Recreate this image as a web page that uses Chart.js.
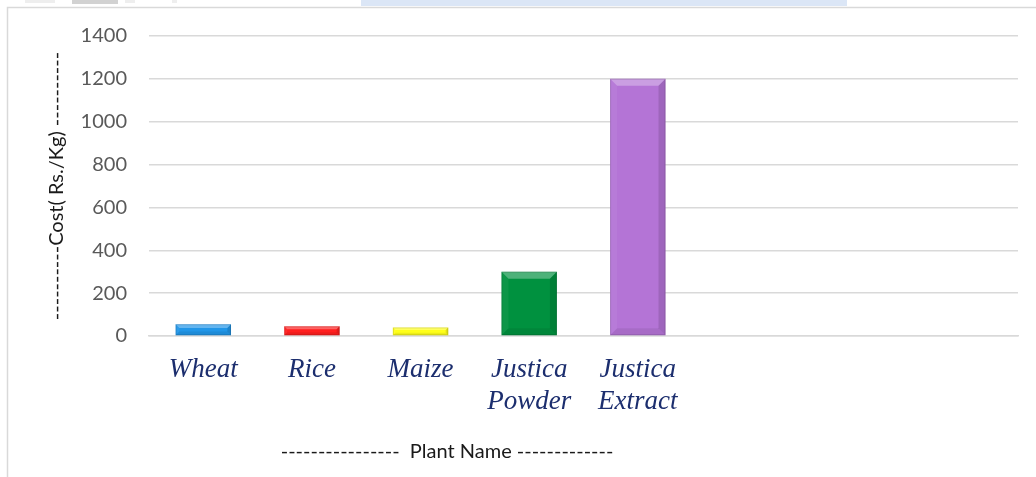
<!DOCTYPE html>
<html>
<head>
<meta charset="utf-8">
<script src="https://cdn.jsdelivr.net/npm/chart.js@4.4.1/dist/chart.umd.min.js"></script>
<style>
  html, body { margin: 0; padding: 0; background: #ffffff; }
  #wrap { width: 1036px; height: 477px; position: relative; }
</style>
</head>
<body>
<div id="wrap"><canvas id="c" width="1036" height="477"></canvas></div>
<script>
// ---- data ----
const categories = [['Wheat'], ['Rice'], ['Maize'], ['Justica', 'Powder'], ['Justica', 'Extract'], '', '', ''];
const costValues = [55, 45, 40, 300, 1200, null, null, null];
const barColors = ['#2196e8', '#ff1f1f', '#ffff1a', '#00913f', '#b474d6', '#cccccc', '#cccccc', '#cccccc'];
const yTicks = [0, 200, 400, 600, 800, 1000, 1200, 1400];
const yTitle = '----------Cost( Rs./Kg) ----------';
const xTitle = '----------------  Plant Name -------------';

// frame + decorations
const framePlugin = {
  id: 'frame',
  beforeDraw(chart) {
    const ctx = chart.ctx;
    ctx.save();
    ctx.fillStyle = '#ffffff';
    ctx.fillRect(0, 0, chart.width, chart.height);
    ctx.fillStyle = '#dbe6f6';
    ctx.fillRect(361, 0, 486, 6);
    ctx.fillStyle = '#d2d2d2';
    ctx.fillRect(72, 0, 46, 4);
    ctx.fillStyle = '#eeeeee';
    ctx.fillRect(25, 0, 30, 3);
    ctx.fillRect(125, 0, 10, 3);
    ctx.fillRect(172, 0, 5, 3);
    ctx.strokeStyle = '#d9d9d9';
    ctx.lineWidth = 1.5;
    ctx.beginPath();
    ctx.moveTo(7.5, chart.height);
    ctx.lineTo(7.5, 7.5);
    ctx.lineTo(chart.width, 7.5);
    ctx.stroke();
    ctx.restore();
  }
};

// bevel effect on bars
const bevelPlugin = {
  id: 'bevel',
  afterDatasetsDraw(chart) {
    const ctx = chart.ctx;
    const meta = chart.getDatasetMeta(0);
    ctx.save();
    meta.data.forEach((bar, i) => {
      if (costValues[i] == null) return;
      const p = bar.getProps(['x', 'y', 'base', 'width'], true);
      const l = p.x - p.width / 2, r = p.x + p.width / 2;
      const t = Math.min(p.y, p.base), b = Math.max(p.y, p.base);
      const h = b - t;
      const bv = Math.min(7, h / 3);
      const poly = (pts, col) => {
        ctx.fillStyle = col;
        ctx.beginPath();
        ctx.moveTo(pts[0][0], pts[0][1]);
        for (let k = 1; k < pts.length; k++) ctx.lineTo(pts[k][0], pts[k][1]);
        ctx.closePath();
        ctx.fill();
      };
      poly([[l, t], [r, t], [r - bv, t + bv], [l + bv, t + bv]], 'rgba(255,255,255,0.3)');
      poly([[l, t], [l + bv, t + bv], [l + bv, b - bv], [l, b]], 'rgba(255,255,255,0.05)');
      poly([[r, t], [r, b], [r - bv, b - bv], [r - bv, t + bv]], 'rgba(0,0,0,0.12)');
      poly([[l, b], [l + bv, b - bv], [r - bv, b - bv], [r, b]], 'rgba(0,0,0,0.07)');
      ctx.strokeStyle = 'rgba(0,0,0,0.12)';
      ctx.lineWidth = 1;
      ctx.strokeRect(l + 0.5, t + 0.5, p.width - 1, h - 1);
    });
    ctx.restore();
  }
};

// x-axis title (offset to the left like the reference)
const xTitlePlugin = {
  id: 'xTitle',
  afterDraw(chart) {
    const ctx = chart.ctx;
    const a = chart.chartArea;
    ctx.save();
    ctx.font = '20px Lato';
    ctx.fillStyle = '#1a1a1a';
    ctx.textAlign = 'center';
    ctx.textBaseline = 'middle';
    ctx.fillText(xTitle, a.left + (a.right - a.left) * 0.343, 452);
    ctx.restore();
  }
};

new Chart(document.getElementById('c'), {
  type: 'bar',
  data: {
    labels: categories,
    datasets: [{
      data: costValues,
      backgroundColor: barColors,
      borderWidth: 0,
      categoryPercentage: 1.0,
      barPercentage: 0.51
    }]
  },
  options: {
    responsive: false,
    animation: false,
    devicePixelRatio: 1,
    layout: { padding: { left: 0, right: 18, top: 36, bottom: 0 } },
    plugins: { legend: { display: false }, tooltip: { enabled: false } },
    scales: {
      y: {
        min: 0,
        max: 1400,
        afterBuildTicks(scale) { scale.ticks = yTicks.map(v => ({ value: v })); },
        afterFit(scale) { scale.width = 149; },
        grid: { color: '#d9d9d9', lineWidth: 1.5, drawTicks: false },
        border: { display: false },
        ticks: {
          padding: 22,
          color: '#595959',
          font: { family: 'Lato', size: 20 },
          callback: (v) => String(v)
        },
        title: {
          display: true,
          text: yTitle,
          color: '#1a1a1a',
          font: { family: 'Lato', size: 20 },
          padding: { top: 45, bottom: 0 }
        }
      },
      x: {
        afterFit(scale) { scale.height = 141; },
        grid: { display: false, drawTicks: false },
        border: { display: true, color: '#d9d9d9', width: 1.5 },
        ticks: {
          padding: 18,
          color: '#1c2e6e',
          maxRotation: 0,
          autoSkip: false,
          font: { family: 'Liberation Serif', size: 27, style: 'italic', lineHeight: 1.18 }
        }
      }
    }
  },
  plugins: [framePlugin, bevelPlugin, xTitlePlugin]
});
</script>
</body>
</html>
